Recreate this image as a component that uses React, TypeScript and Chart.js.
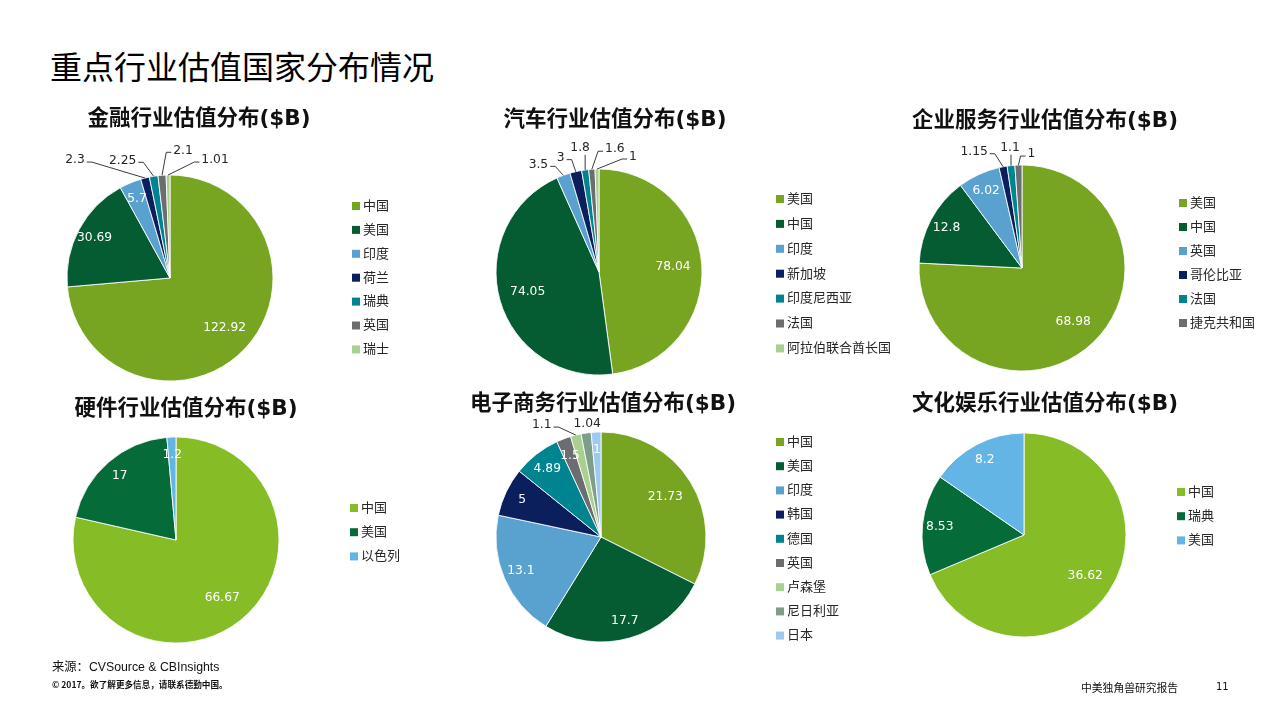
import React, { useEffect, useRef } from "react";
import { Chart, registerables } from "chart.js";

Chart.register(...registerables);

const W = 1280;
const H = 720;
const FONT = '"DejaVu Sans", "Noto Sans CJK SC", sans-serif';
const CJK = '"Noto Sans CJK SC", "DejaVu Sans", sans-serif';

// ---------- data ----------
const pageTitle = "重点行业估值国家分布情况";
const sourceText = "来源：CVSource & CBInsights";
const copyrightText = "© 2017。欲了解更多信息，请联系德勤中国。";
const reportText = "中美独角兽研究报告";
const pageNumber = "11";

const finTitle = "金融行业估值分布($B)";
const finLabels = ["中国", "美国", "印度", "荷兰", "瑞典", "英国", "瑞士"];
const finValues = [122.92, 30.69, 5.7, 2.3, 2.25, 2.1, 1.01];

const autoTitle = "汽车行业估值分布($B)";
const autoLabels = ["美国", "中国", "印度", "新加坡", "印度尼西亚", "法国", "阿拉伯联合酋长国"];
const autoValues = [78.04, 74.05, 3.5, 3, 1.8, 1.6, 1];

const entTitle = "企业服务行业估值分布($B)";
const entLabels = ["美国", "中国", "英国", "哥伦比亚", "法国", "捷克共和国"];
const entValues = [68.98, 12.8, 6.02, 1.15, 1.1, 1];

const hwTitle = "硬件行业估值分布($B)";
const hwLabels = ["中国", "美国", "以色列"];
const hwValues = [66.67, 17, 1.2];

const ecTitle = "电子商务行业估值分布($B)";
const ecLabels = ["中国", "美国", "印度", "韩国", "德国", "英国", "卢森堡", "尼日利亚", "日本"];
const ecValues = [21.73, 17.7, 13.1, 5, 4.89, 1.5, 1.1, 1.04, 1];

const cultTitle = "文化娱乐行业估值分布($B)";
const cultLabels = ["中国", "瑞典", "美国"];
const cultValues = [36.62, 8.53, 8.2];

// ---------- styles ----------
const OLIVE = "#77A521";
const DKG = "#055C32";
const BLUE = "#59A2CF";
const NAVY = "#0B1F5C";
const TEAL = "#00848F";
const GRAY = "#6B6D70";
const LTGRN = "#A9D08E";
const GRGN = "#7E9E89";
const LTBLUE = "#9DCAEE";
const LIME = "#86BC25";
const DKG2 = "#056B38";
const SKY = "#62B5E5";

type Panel = {
  title: string;
  labels: string[];
  values: number[];
  colors: string[];
  cx: number;
  cy: number;
  r: number;
  tx: number;
  ty: number;
  lx: number;
  ly: number;
  lgap: number;
  outside: Record<number, [number, number]>;
};

const panels: Panel[] = [
  {
    title: finTitle, labels: finLabels, values: finValues,
    colors: [OLIVE, DKG, BLUE, NAVY, TEAL, GRAY, LTGRN],
    cx: 170, cy: 278, r: 103, tx: 199, ty: 119,
    lx: 352, ly: 206, lgap: 23.9,
    outside: { 3: [-70, -18], 4: [-31, -16], 5: [21, -25], 6: [47, -15] },
  },
  {
    title: autoTitle, labels: autoLabels, values: autoValues,
    colors: [OLIVE, DKG, BLUE, NAVY, TEAL, GRAY, LTGRN],
    cx: 599, cy: 272, r: 103, tx: 615, ty: 120,
    lx: 776, ly: 199, lgap: 24.9,
    outside: { 2: [-25, -11], 3: [-15, -14], 4: [-5, -22], 5: [23, -20], 6: [36, -12] },
  },
  {
    title: entTitle, labels: entLabels, values: entValues,
    colors: [OLIVE, DKG, BLUE, NAVY, TEAL, GRAY],
    cx: 1022, cy: 268, r: 103, tx: 1045, ty: 121,
    lx: 1179, ly: 203, lgap: 24,
    outside: { 3: [-29, -15], 4: [-1, -18], 5: [13, -11] },
  },
  {
    title: hwTitle, labels: hwLabels, values: hwValues,
    colors: [LIME, DKG2, SKY],
    cx: 176, cy: 540, r: 103, tx: 186, ty: 409,
    lx: 350, ly: 508, lgap: 24.2,
    outside: {},
  },
  {
    title: ecTitle, labels: ecLabels, values: ecValues,
    colors: [OLIVE, DKG, BLUE, NAVY, TEAL, GRAY, LTGRN, GRGN, LTBLUE],
    cx: 601, cy: 537, r: 105, tx: 603, ty: 404,
    lx: 776, ly: 442, lgap: 24.2,
    outside: { 6: [-34, -10], 7: [1, -9] },
  },
  {
    title: cultTitle, labels: cultLabels, values: cultValues,
    colors: [LIME, DKG2, SKY],
    cx: 1024, cy: 535, r: 102, tx: 1045, ty: 404,
    lx: 1177, ly: 492, lgap: 24.2,
    outside: {},
  },
];

const piePanelPlugin = {
  id: "piePanel",
  afterDatasetsDraw(chart: any, _args: any, opts: any) {
    const p: Panel = opts.panel;
    if (!p) return;
    const ctx: CanvasRenderingContext2D = chart.ctx;
    const meta = chart.getDatasetMeta(0);
    const ds = chart.data.datasets[0];
    const data: number[] = ds.data as number[];
    const total = data.reduce((a, b) => a + b, 0);
    ctx.save();
    ctx.font = `12.3px ${FONT}`;
    ctx.textAlign = "center";
    ctx.textBaseline = "middle";
    meta.data.forEach((arc: any, i: number) => {
      const { x, y, startAngle, endAngle, outerRadius } = arc.getProps(
        ["x", "y", "startAngle", "endAngle", "outerRadius"],
        true
      );
      const mid = (startAngle + endAngle) / 2;
      const val = data[i];
      const text = String(val);
      const off = p.outside[i];
      if (off) {
        const ax = x + Math.cos(mid) * outerRadius;
        const ay = y + Math.sin(mid) * outerRadius;
        const lx = ax + off[0];
        const ly = ay + off[1];
        const w = ctx.measureText(text).width;
        ctx.strokeStyle = "#3a3a3a";
        ctx.lineWidth = 1;
        ctx.beginPath();
        let draw = true;
        if (ax < lx - w / 2) {
          const ex = lx - w / 2 - 2, ey = ly + 2;
          ctx.moveTo(ex, ey);
          ctx.lineTo(ex - 5, ey);
          ctx.lineTo(ax, ay);
        } else if (ax > lx + w / 2) {
          const ex = lx + w / 2 + 2, ey = ly + 2;
          ctx.moveTo(ex, ey);
          ctx.lineTo(ex + 5, ey);
          ctx.lineTo(ax, ay);
        } else {
          const ey = ly + 7;
          if (ay - ey < 5) draw = false;
          ctx.moveTo(ax, ey);
          ctx.lineTo(ax, ay);
        }
        if (draw) ctx.stroke();
        ctx.fillStyle = "#262626";
        ctx.fillText(text, lx, ly);
      } else {
        const frac = val / total;
        const d = outerRadius * (frac > 0.3 ? 0.72 : 0.83);
        ctx.fillStyle = "#ffffff";
        ctx.fillText(text, x + Math.cos(mid) * d, y + Math.sin(mid) * d);
      }
    });

    // legend
    const labels: string[] = chart.data.labels as string[];
    const colors: string[] = ds.backgroundColor as string[];
    ctx.font = `13px ${FONT}`;
    ctx.textAlign = "left";
    labels.forEach((lab, i) => {
      const cy = p.ly + i * p.lgap;
      ctx.fillStyle = colors[i];
      ctx.fillRect(p.lx, cy - 4, 8, 8);
      ctx.fillStyle = "#262626";
      ctx.fillText(lab, p.lx + 11, cy + 0.5);
    });

    // title
    ctx.font = `bold 21.5px ${FONT}`;
    ctx.textAlign = "center";
    ctx.fillStyle = "#111111";
    ctx.fillText(p.title, p.tx, p.ty);
    ctx.restore();
  },
};

function PieCanvas({ panel }: { panel: Panel }) {
  const ref = useRef<HTMLCanvasElement>(null);
  useEffect(() => {
    if (!ref.current) return;
    const b = 1;
    const rr = panel.r + b / 2;
    const chart = new Chart(ref.current, {
      type: "pie",
      data: {
        labels: panel.labels,
        datasets: [
          {
            data: panel.values,
            backgroundColor: panel.colors,
            borderColor: "rgba(255,255,255,0.85)",
            borderWidth: b,
            hoverBorderWidth: b,
            offset: 0,
            hoverOffset: 0,
          } as any,
        ],
      },
      options: {
        responsive: false,
        animation: false,
        events: [],
        layout: {
          padding: {
            left: panel.cx - rr,
            top: panel.cy - rr,
            right: W - panel.cx - rr,
            bottom: H - panel.cy - rr,
          },
        },
        plugins: {
          legend: { display: false },
          tooltip: { enabled: false },
          title: { display: false },
          piePanel: { panel },
        } as any,
      },
      plugins: [piePanelPlugin],
    });
    return () => chart.destroy();
  }, [panel]);
  return (
    <canvas
      ref={ref}
      width={W}
      height={H}
      style={{ position: "absolute", left: 0, top: 0, width: W, height: H }}
    />
  );
}

export default function App() {
  return (
    <div
      style={{
        position: "fixed",
        left: 0,
        top: 0,
        width: W,
        height: H,
        background: "#ffffff",
        overflow: "hidden",
      }}
    >
      <div
        style={{
          position: "absolute",
          left: 50,
          top: 47,
          fontFamily: CJK,
          fontSize: 32,
          lineHeight: "36px",
          color: "#000",
          whiteSpace: "nowrap",
        }}
      >
        {pageTitle}
      </div>
      {panels.map((p, i) => (
        <PieCanvas key={i} panel={p} />
      ))}
      <div
        style={{
          position: "absolute",
          left: 52,
          top: 659,
          fontFamily: '"Liberation Sans", "Noto Sans CJK SC", sans-serif',
          fontSize: 12.3,
          lineHeight: "16px",
          color: "#111",
          whiteSpace: "nowrap",
        }}
      >
        {sourceText}
      </div>
      <div
        style={{
          position: "absolute",
          left: 52,
          top: 678,
          fontFamily: CJK,
          fontSize: 8.6,
          fontWeight: 700,
          lineHeight: "12px",
          color: "#111",
          whiteSpace: "nowrap",
        }}
      >
        {copyrightText}
      </div>
      <div
        style={{
          position: "absolute",
          left: 1081,
          top: 680,
          fontFamily: CJK,
          fontSize: 10.8,
          lineHeight: "14px",
          color: "#111",
          whiteSpace: "nowrap",
        }}
      >
        {reportText}
      </div>
      <div
        style={{
          position: "absolute",
          left: 1216,
          top: 680,
          fontFamily: FONT,
          fontSize: 10,
          lineHeight: "14px",
          color: "#111",
          whiteSpace: "nowrap",
        }}
      >
        {pageNumber}
      </div>
    </div>
  );
}
